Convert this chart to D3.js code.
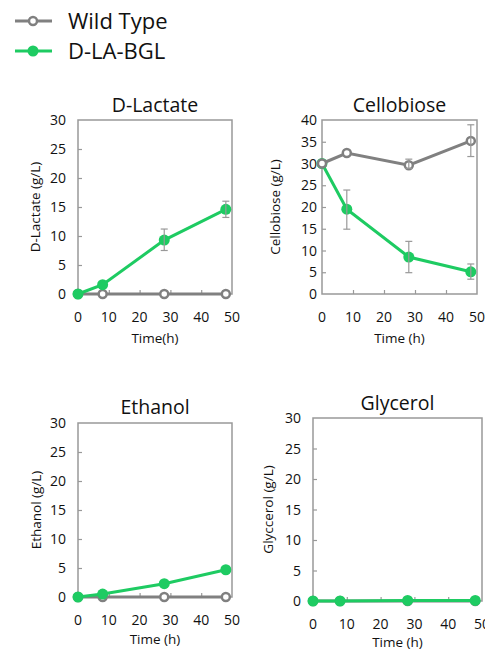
<!DOCTYPE html>
<html>
<head>
<meta charset="utf-8">
<script src="https://cdn.jsdelivr.net/npm/d3@7"></script>
<style>
  body { margin: 0; background: #fff; }
  text { font-family: "Open Sans", "Noto Sans", sans-serif; fill: #111; }
</style>
</head>
<body>
<div id="chart"></div>
<script>
// time points (h)
var times = [0, 8, 28, 48];
var seriesNames = ["Wild Type", "D-LA-BGL"];

// values per panel, error bars as [low, high] (null = no bar)
var lactateWT = [0, 0, 0, 0];
var lactateBGL = [0, 1.6, 9.3, 14.6];
var lactateBGLerr = [null, null, [7.5, 11.2], [13.2, 16.0]];

var cellobioseWT = [30, 32.4, 29.6, 35.2];
var cellobioseWTerr = [null, null, [28.9, 31.0], [31.6, 38.9]];
var cellobioseBGL = [30, 19.5, 8.5, 5.1];
var cellobioseBGLerr = [null, [14.9, 23.9], [4.9, 12.1], [3.4, 6.9]];

var ethanolWT = [0, 0, 0, 0];
var ethanolBGL = [0, 0.5, 2.3, 4.7];

var glycerolWT = [0, 0, 0, 0];
var glycerolBGL = [0, 0, 0.1, 0.1];

var xTicks = [0, 10, 20, 30, 40, 50];
var yTicks30 = [0, 5, 10, 15, 20, 25, 30];
var yTicks40 = [0, 5, 10, 15, 20, 25, 30, 35, 40];

var green = "#1ecb62", gray = "#808080", frame = "#999";

var svg = d3.select("#chart").append("svg")
  .attr("width", 485)
  .attr("height", 651);

// legend
var legend = [
  {name: seriesNames[0], color: gray, y: 21, open: true},
  {name: seriesNames[1], color: green, y: 51, open: false}
];
legend.forEach(function(d) {
  svg.append("line")
    .attr("x1", 15).attr("x2", 52).attr("y1", d.y).attr("y2", d.y)
    .attr("stroke", d.color).attr("stroke-width", 3);
  svg.append("circle")
    .attr("cx", 33).attr("cy", d.y).attr("r", d.open ? 4 : 5.5)
    .attr("fill", d.open ? "#fff" : d.color)
    .attr("stroke", d.color).attr("stroke-width", d.open ? 2.5 : 0);
  svg.append("text")
    .attr("x", 68).attr("y", d.y + 8)
    .style("font-size", "22px")
    .text(d.name);
});

var panels = [
  {title: "D-Lactate", ylab: "D-Lactate (g/L)", xlab: "Time(h)",
   left: 78, right: 232, top: 120, bottom: 294, ymax: 30, yticks: yTicks30,
   wt: lactateWT, wtErr: null, bgl: lactateBGL, bglErr: lactateBGLerr,
   titleY: 112, tickGap: 12, ylabX: 35, xlabY: 343},
  {title: "Cellobiose", ylab: "Cellobiose (g/L)", xlab: "Time (h)",
   left: 322, right: 477, top: 120, bottom: 294, ymax: 40, yticks: yTicks40,
   wt: cellobioseWT, wtErr: cellobioseWTerr, bgl: cellobioseBGL, bglErr: cellobioseBGLerr,
   titleY: 112, tickGap: 5, ylabX: 275, xlabY: 343},
  {title: "Ethanol", ylab: "Ethanol (g/L)", xlab: "Time (h)",
   left: 78, right: 232, top: 423, bottom: 597, ymax: 30, yticks: yTicks30,
   wt: ethanolWT, wtErr: null, bgl: ethanolBGL, bglErr: null,
   titleY: 414, tickGap: 12, ylabX: 36, xlabY: 644},
  {title: "Glycerol", ylab: "Glyccerol (g/L)", xlab: "Time (h)",
   left: 313, right: 482, top: 418, bottom: 601, ymax: 30, yticks: yTicks30,
   wt: glycerolWT, wtErr: null, bgl: glycerolBGL, bglErr: null,
   titleY: 410, tickGap: 12, ylabX: 268, xlabY: 647}
];

panels.forEach(function(p) {
  var x = d3.scaleLinear().domain([0, 50]).range([p.left, p.right]);
  var y = d3.scaleLinear().domain([0, p.ymax]).range([p.bottom, p.top]);
  var g = svg.append("g");

  // frame
  g.append("rect")
    .attr("x", p.left).attr("y", p.top)
    .attr("width", p.right - p.left).attr("height", p.bottom - p.top)
    .attr("fill", "none").attr("stroke", frame).attr("stroke-width", 1.5);

  // inner ticks
  g.append("g")
    .attr("transform", "translate(0," + p.bottom + ")")
    .call(d3.axisTop(x).tickValues(xTicks.slice(1, -1)).tickSize(4).tickFormat(""))
    .call(function(a) { a.select(".domain").remove(); a.selectAll("line").attr("stroke", frame).attr("stroke-width", 1.2); });
  g.append("g")
    .attr("transform", "translate(" + p.left + ",0)")
    .call(d3.axisRight(y).tickValues(p.yticks.slice(1, -1)).tickSize(4).tickFormat(""))
    .call(function(a) { a.select(".domain").remove(); a.selectAll("line").attr("stroke", frame).attr("stroke-width", 1.2); });

  // tick labels
  g.selectAll(".xl").data(xTicks).enter().append("text")
    .attr("x", function(d) { return x(d); })
    .attr("y", p.bottom + 28)
    .attr("text-anchor", "middle")
    .style("font-size", "14px")
    .text(function(d) { return d; });
  g.selectAll(".yl").data(p.yticks).enter().append("text")
    .attr("x", p.left - p.tickGap)
    .attr("y", function(d) { return y(d) + 5; })
    .attr("text-anchor", "end")
    .style("font-size", "14px")
    .text(function(d) { return d; });

  // titles
  g.append("text")
    .attr("x", (p.left + p.right) / 2).attr("y", p.titleY)
    .attr("text-anchor", "middle").style("font-size", "19.5px")
    .text(p.title);
  g.append("text")
    .attr("transform", "translate(" + p.ylabX + "," + ((p.top + p.bottom) / 2) + ") rotate(-90)")
    .attr("text-anchor", "middle").attr("dy", "0.35em").style("font-size", "13.5px")
    .text(p.ylab);
  g.append("text")
    .attr("x", (p.left + p.right) / 2).attr("y", p.xlabY)
    .attr("text-anchor", "middle").style("font-size", "13.5px")
    .text(p.xlab);

  var line = d3.line()
    .x(function(d, i) { return x(times[i]); })
    .y(function(d) { return y(d); });

  function drawSeries(vals, err, color, open) {
    g.append("path").datum(vals)
      .attr("d", line).attr("fill", "none")
      .attr("stroke", color).attr("stroke-width", 3);
    g.selectAll(null).data(vals).enter().append("circle")
      .attr("cx", function(d, i) { return x(times[i]); })
      .attr("cy", function(d) { return y(d); })
      .attr("r", open ? 4 : 5.5)
      .attr("fill", open ? "#fff" : color)
      .attr("stroke", color).attr("stroke-width", open ? 2.5 : 0);
    if (err) {
      err.forEach(function(e, i) {
        if (!e) return;
        var cx = x(times[i]);
        g.append("line").attr("x1", cx).attr("x2", cx)
          .attr("y1", y(e[0])).attr("y2", y(e[1]))
          .attr("stroke", "#999").attr("stroke-width", 1.2);
        [e[0], e[1]].forEach(function(v) {
          g.append("line").attr("x1", cx - 3.5).attr("x2", cx + 3.5)
            .attr("y1", y(v)).attr("y2", y(v))
            .attr("stroke", "#999").attr("stroke-width", 1.2);
        });
      });
    }
  }

  if (p.title === "Cellobiose") {
    drawSeries(p.bgl, p.bglErr, green, false);
    drawSeries(p.wt, p.wtErr, gray, true);
  } else {
    drawSeries(p.wt, p.wtErr, gray, true);
    drawSeries(p.bgl, p.bglErr, green, false);
  }
});
</script>
</body>
</html>
